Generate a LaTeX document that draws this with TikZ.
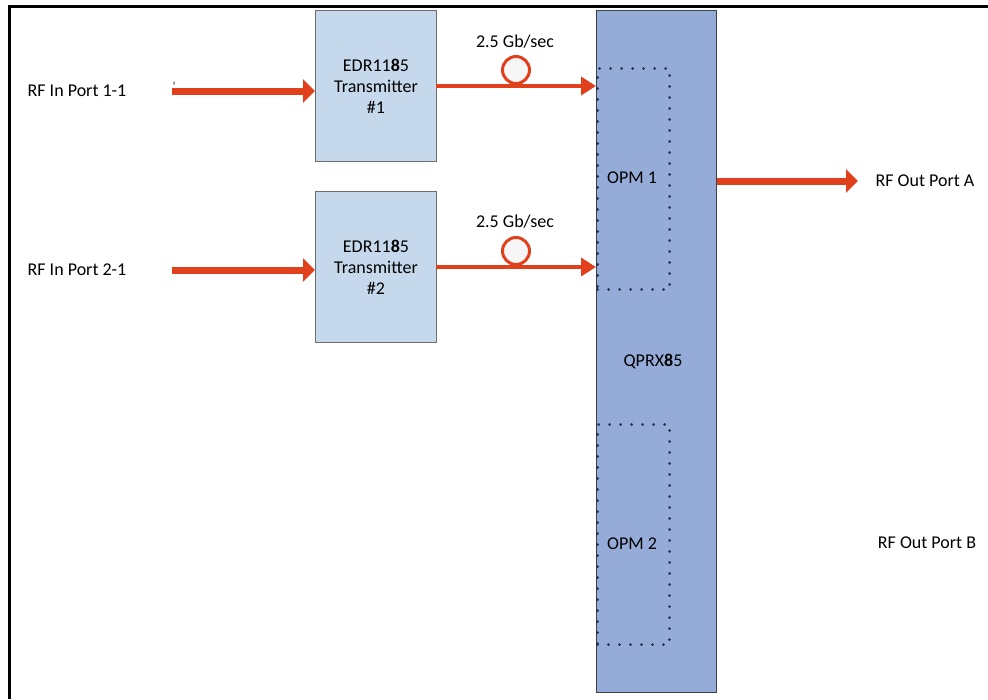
\documentclass[tikz,border=0pt]{standalone}
\usepackage{fontspec}
\setmainfont{Carlito}
\usetikzlibrary{arrows.meta}
\definecolor{arrowred}{RGB}{224,64,28}
\definecolor{txfill}{RGB}{198,217,236}
\definecolor{txline}{RGB}{110,110,110}
\definecolor{qfill}{RGB}{149,172,216}
\definecolor{qline}{RGB}{60,64,72}
\definecolor{dotcol}{RGB}{38,50,78}
\definecolor{ringfill}{RGB}{246,246,246}
\begin{document}
\begin{tikzpicture}[x=1pt,y=-1pt,
  font=\fontsize{18}{21}\selectfont,
  txbox/.style={draw=txline, fill=txfill, line width=1pt, minimum width=121pt,
    minimum height=151pt, inner sep=0pt, align=center, anchor=north west},
  qbox/.style={draw=qline, fill=qfill, line width=1pt, minimum width=120pt,
    minimum height=682pt, inner sep=0pt, anchor=north west},
  opmbox/.style={draw=dotcol, line width=3pt, dash pattern=on 0pt off 11pt,
    line cap=round, minimum width=72pt, inner sep=0pt, anchor=north west},
  lbl/.style={inner sep=0pt, anchor=center},
  bigarrow/.style={draw=arrowred, line width=7pt,
    -{Triangle[length=12pt,width=23pt]}},
  thinarrow/.style={draw=arrowred, line width=3.5pt,
    -{Triangle[length=15pt,width=18pt]}},
  ring/.style={circle, draw=arrowred, line width=3pt, fill=ringfill,
    minimum size=27pt, inner sep=0pt}]
\useasboundingbox (0,0) rectangle (988,699);
% frame
\coordinate (fbl) at (9.5,699);
\coordinate (ftl) at (9.5,6);
\coordinate (ftr) at (988,6);
\draw[line width=3pt] (fbl) -- (ftl) -- (ftr);
% boxes
\node[qbox] (qprx) at (596,10) {};
\node[lbl] (qlabel) at (653,361) {QPRX{\bfseries 8}5};
\node[opmbox, minimum height=221pt] (opm1) at (596,67) {};
\node[lbl] (opm1l) at (632,178) {OPM 1};
\node[opmbox, minimum height=220pt] (opm2) at (596,423) {};
\node[lbl] (opm2l) at (632,544) {OPM 2};
\node[txbox] (tx1) at (315,10) {EDR11{\bfseries 8}5\\Transmitter\\\#1};
\node[txbox] (tx2) at (315,191) {EDR11{\bfseries 8}5\\Transmitter\\\#2};
% input labels and arrows
\node[lbl] (in1) at (77,91) {RF In Port 1-1};
\node[lbl] (in2) at (77,270) {RF In Port 2-1};
\node[lbl, font=\fontsize{12}{12}\selectfont] (tick) at (174,86) {\symbol{96}};
\coordinate (s1) at (172,91);
\coordinate (s2) at (172,270);
\draw[bigarrow] (s1) -- (s1 -| tx1.west);
\draw[bigarrow] (s2) -- (s2 -| tx2.west);
% links to QPRX
\coordinate (l1) at (436,86);
\coordinate (l2) at (436,267);
\draw[thinarrow] (l1) -- (l1 -| qprx.west);
\draw[thinarrow] (l2) -- (l2 -| qprx.west);
\node[ring] (ring1) at (516,70) {};
\node[ring] (ring2) at (516,251) {};
\node[lbl] (rate1) at (515,42) {2.5 Gb/sec};
\node[lbl] (rate2) at (515,222) {2.5 Gb/sec};
% output
\coordinate (o1) at (716,181);
\coordinate (oA) at (858,181);
\draw[bigarrow] (o1 -| qprx.east) -- (oA);
\node[lbl] (outA) at (925,181) {RF Out Port A};
\node[lbl] (outB) at (927,543) {RF Out Port B};
\end{tikzpicture}
\end{document}
